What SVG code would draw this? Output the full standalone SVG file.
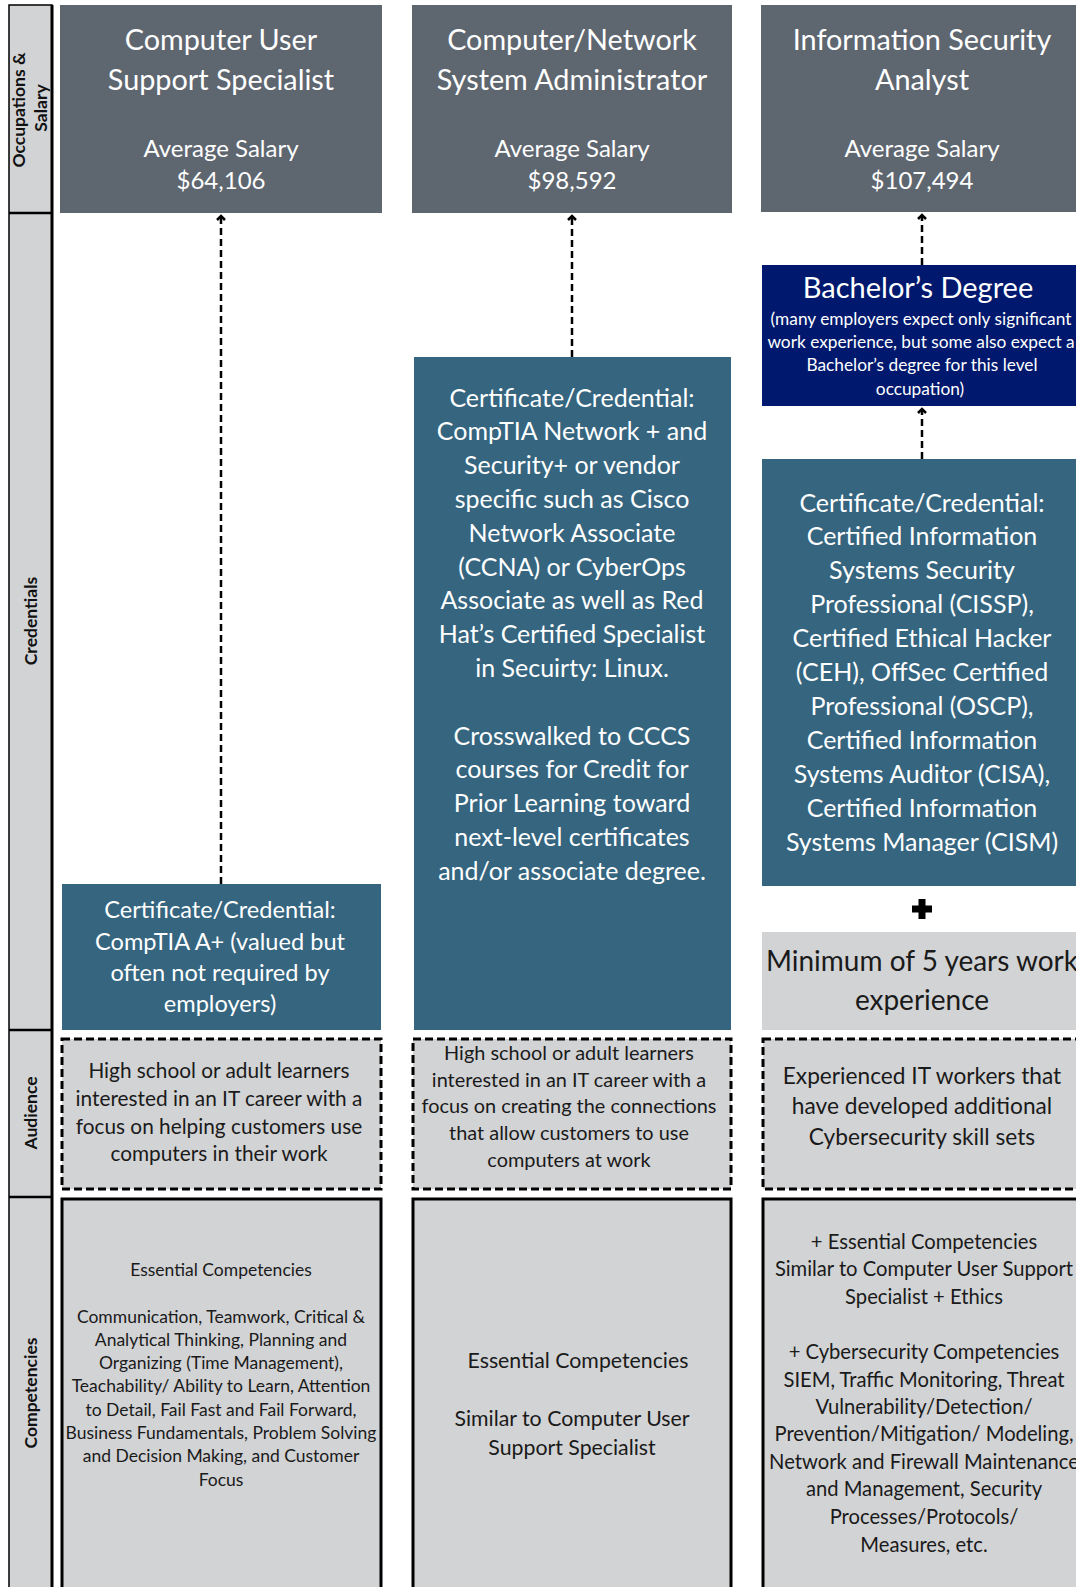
<svg xmlns="http://www.w3.org/2000/svg" width="1076" height="1587" viewBox="0 0 1076 1587">
<style>
text{font-family:Lato,"Open Sans","Liberation Sans",sans-serif;text-anchor:middle}
.w{fill:#ffffff}
.k{fill:#1a1a1a}
.hdr{fill:#5e6670}
.teal{fill:#35657f}
.navy{fill:#00196e}
.gray{fill:#d2d3d5}
.dash{fill:#d2d3d5;stroke:#000;stroke-width:3;stroke-dasharray:8 4}
.solid{fill:#d2d3d5;stroke:#000;stroke-width:3}
.lbl{font-weight:bold;font-size:17.5px;fill:#111}
.conn{stroke:#000;stroke-width:2.5;stroke-dasharray:7 4;fill:none}
.t28{font-size:28.8px}
.t23{font-size:24px}
.t24{font-size:25px}
</style>
<defs>
<marker id="ah" markerUnits="userSpaceOnUse" markerWidth="14" markerHeight="14" viewBox="-7 -7 14 14" refX="0" refY="0" orient="auto">
<path d="M -4 -4 L 0 0 L -4 4" stroke="#000" stroke-width="2.5" fill="none"/>
</marker>
</defs>

<g id="sidebar">
<rect x="9" y="5" width="43" height="1590" class="gray" stroke="#000" stroke-width="1.5"/>
<line x1="52" y1="5" x2="52" y2="1587" stroke="#000" stroke-width="3"/>
<line x1="9" y1="213" x2="52" y2="213" stroke="#000" stroke-width="2.5"/>
<line x1="9" y1="1030" x2="52" y2="1030" stroke="#000" stroke-width="2.5"/>
<line x1="9" y1="1197" x2="52" y2="1197" stroke="#000" stroke-width="2.5"/>
<text class="lbl" transform="translate(25,110) rotate(-90)">Occupations &amp;</text>
<text class="lbl" transform="translate(47,108) rotate(-90)">Salary</text>
<text class="lbl" transform="translate(37,621) rotate(-90)">Credentials</text>
<text class="lbl" transform="translate(37,1113) rotate(-90)">Audience</text>
<text class="lbl" transform="translate(37,1393) rotate(-90)">Competencies</text>
</g>

<g id="occ1">
<rect x="60" y="5" width="322" height="208" class="hdr"/>
<text class="w t28" x="221" y="50">Computer User</text>
<text class="w t28" x="221" y="90">Support Specialist</text>
<text class="w t23" x="221" y="157">Average Salary</text>
<text class="w t23" x="221" y="189">$64,106</text>
</g>
<g id="occ2">
<rect x="412" y="5" width="320" height="208" class="hdr"/>
<text class="w t28" x="572" y="50">Computer/Network</text>
<text class="w t28" x="572" y="90">System Administrator</text>
<text class="w t23" x="572" y="157">Average Salary</text>
<text class="w t23" x="572" y="189">$98,592</text>
</g>
<g id="occ3">
<rect x="761" y="5" width="320" height="207" class="hdr"/>
<text class="w t28" x="922" y="50">Information Security</text>
<text class="w t28" x="922" y="90">Analyst</text>
<text class="w t23" x="922" y="157">Average Salary</text>
<text class="w t23" x="922" y="189">$107,494</text>
</g>

<g id="bachelor">
<rect x="762" y="265" width="320" height="141" class="navy"/>
<text class="w" font-size="29" x="918" y="298">Bachelor’s Degree</text>
<text class="w" font-size="17.3" x="921" y="325">(many employers expect only significant</text>
<text class="w" font-size="17.3" x="921" y="348">work experience, but some also expect a</text>
<text class="w" font-size="17.3" x="922" y="371">Bachelor’s degree for this level</text>
<text class="w" font-size="17.3" x="920" y="395">occupation)</text>
</g>

<g id="cred1">
<rect x="62" y="884" width="319" height="146" class="teal"/>
<text class="w" font-size="23.6" x="220" y="918">Certificate/Credential:</text>
<text class="w" font-size="23.6" x="220" y="949.5">CompTIA A+ (valued but</text>
<text class="w" font-size="23.6" x="220" y="981">often not required by</text>
<text class="w" font-size="23.6" x="220" y="1012">employers)</text>
</g>

<g id="cred2">
<rect x="414" y="357" width="317" height="673" class="teal"/>
<text class="w t24" x="572" y="406.5">Certificate/Credential:</text>
<text class="w t24" x="572" y="440.3">CompTIA Network + and</text>
<text class="w t24" x="572" y="474.1">Security+ or vendor</text>
<text class="w t24" x="572" y="507.9">specific such as Cisco</text>
<text class="w t24" x="572" y="541.7">Network Associate</text>
<text class="w t24" x="572" y="575.5">(CCNA) or CyberOps</text>
<text class="w t24" x="572" y="609.3">Associate as well as Red</text>
<text class="w t24" x="572" y="643.1">Hat’s Certified Specialist</text>
<text class="w t24" x="572" y="676.9">in Secuirty: Linux.</text>
<text class="w t24" x="572" y="744.5">Crosswalked to CCCS</text>
<text class="w t24" x="572" y="778.3">courses for Credit for</text>
<text class="w t24" x="572" y="812.1">Prior Learning toward</text>
<text class="w t24" x="572" y="845.9">next-level certificates</text>
<text class="w t24" x="572" y="879.7">and/or associate degree.</text>
</g>

<g id="cred3">
<rect x="762" y="459" width="320" height="427" class="teal"/>
<text class="w t24" x="922" y="511.5">Certificate/Credential:</text>
<text class="w t24" x="922" y="545.4">Certified Information</text>
<text class="w t24" x="922" y="579.3">Systems Security</text>
<text class="w t24" x="922" y="613.2">Professional (CISSP),</text>
<text class="w t24" x="922" y="647.1">Certified Ethical Hacker</text>
<text class="w t24" x="922" y="681">(CEH), OffSec Certified</text>
<text class="w t24" x="922" y="714.9">Professional (OSCP),</text>
<text class="w t24" x="922" y="748.8">Certified Information</text>
<text class="w t24" x="922" y="782.7">Systems Auditor (CISA),</text>
<text class="w t24" x="922" y="816.6">Certified Information</text>
<text class="w t24" x="922" y="850.5">Systems Manager (CISM)</text>
</g>

<g id="plus">
<path d="M 918.5 899 H 925.5 V 905.5 H 932 V 912.5 H 925.5 V 919 H 918.5 V 912.5 H 912 V 905.5 H 918.5 Z" fill="#000"/>
</g>

<g id="experience">
<rect x="762" y="932" width="320" height="98" class="gray"/>
<text class="k" font-size="28" x="922" y="971">Minimum of 5 years work</text>
<text class="k" font-size="28" x="922" y="1009.5">experience</text>
</g>

<g id="aud1">
<rect x="62" y="1039" width="319" height="150" class="dash"/>
<text class="k" font-size="20.8" x="219" y="1078">High school or adult learners</text>
<text class="k" font-size="20.8" x="219" y="1106">interested in an IT career with a</text>
<text class="k" font-size="20.8" x="219" y="1134">focus on helping customers use</text>
<text class="k" font-size="20.8" x="219" y="1161">computers in their work</text>
</g>
<g id="aud2">
<rect x="413" y="1039" width="318" height="150" class="dash"/>
<text class="k" font-size="19.9" x="569" y="1060">High school or adult learners</text>
<text class="k" font-size="19.9" x="569" y="1087">interested in an IT career with a</text>
<text class="k" font-size="19.9" x="569" y="1113">focus on creating the connections</text>
<text class="k" font-size="19.9" x="569" y="1140">that allow customers to use</text>
<text class="k" font-size="19.9" x="569" y="1167">computers at work</text>
</g>
<g id="aud3">
<rect x="763" y="1039" width="320" height="150" class="dash"/>
<text class="k" font-size="22.7" x="922" y="1084">Experienced IT workers that</text>
<text class="k" font-size="22.7" x="922" y="1114">have developed additional</text>
<text class="k" font-size="22.7" x="922" y="1145">Cybersecurity skill sets</text>
</g>

<g id="comp1">
<rect x="62" y="1199" width="319" height="400" class="solid"/>
<text class="k" font-size="17.5" x="221" y="1275.5">Essential Competencies</text>
<text class="k" font-size="17.5" x="221" y="1322.5">Communication, Teamwork, Critical &amp;</text>
<text class="k" font-size="17.5" x="221" y="1345.8">Analytical Thinking, Planning and</text>
<text class="k" font-size="17.5" x="221" y="1369.1">Organizing (Time Management),</text>
<text class="k" font-size="17.5" x="221" y="1392.4">Teachability/ Ability to Learn, Attention</text>
<text class="k" font-size="17.5" x="221" y="1415.7">to Detail, Fail Fast and Fail Forward,</text>
<text class="k" font-size="17.5" x="221" y="1439">Business Fundamentals, Problem Solving</text>
<text class="k" font-size="17.5" x="221" y="1462.3">and Decision Making, and Customer</text>
<text class="k" font-size="17.5" x="221" y="1485.6">Focus</text>
</g>
<g id="comp2">
<rect x="413" y="1199" width="318" height="400" class="solid"/>
<text class="k" font-size="21.3" x="578" y="1368">Essential Competencies</text>
<text class="k" font-size="21.3" x="572" y="1426">Similar to Computer User</text>
<text class="k" font-size="21.3" x="572" y="1455">Support Specialist</text>
</g>
<g id="comp3">
<rect x="763" y="1199" width="320" height="400" class="solid"/>
<text class="k" font-size="20.2" x="924" y="1249">+ Essential Competencies</text>
<text class="k" font-size="20.2" x="924" y="1276">Similar to Computer User Support</text>
<text class="k" font-size="20.2" x="924" y="1304">Specialist + Ethics</text>
<text class="k" font-size="20.2" x="924" y="1359">+ Cybersecurity Competencies</text>
<text class="k" font-size="20.2" x="924" y="1387">SIEM, Traffic Monitoring, Threat</text>
<text class="k" font-size="20.2" x="924" y="1414">Vulnerability/Detection/</text>
<text class="k" font-size="20.2" x="924" y="1441">Prevention/Mitigation/ Modeling,</text>
<text class="k" font-size="20.2" x="924" y="1469">Network and Firewall Maintenance</text>
<text class="k" font-size="20.2" x="924" y="1496">and Management, Security</text>
<text class="k" font-size="20.2" x="924" y="1524">Processes/Protocols/</text>
<text class="k" font-size="20.2" x="924" y="1552">Measures, etc.</text>
</g>

<g id="connectors">
<line class="conn" x1="221" y1="884" x2="221" y2="216" marker-end="url(#ah)"/>
<line class="conn" x1="572" y1="357" x2="572" y2="216" marker-end="url(#ah)"/>
<line class="conn" x1="922" y1="265" x2="922" y2="215" marker-end="url(#ah)"/>
<line class="conn" x1="922" y1="459" x2="922" y2="409" marker-end="url(#ah)"/>
</g>
</svg>
